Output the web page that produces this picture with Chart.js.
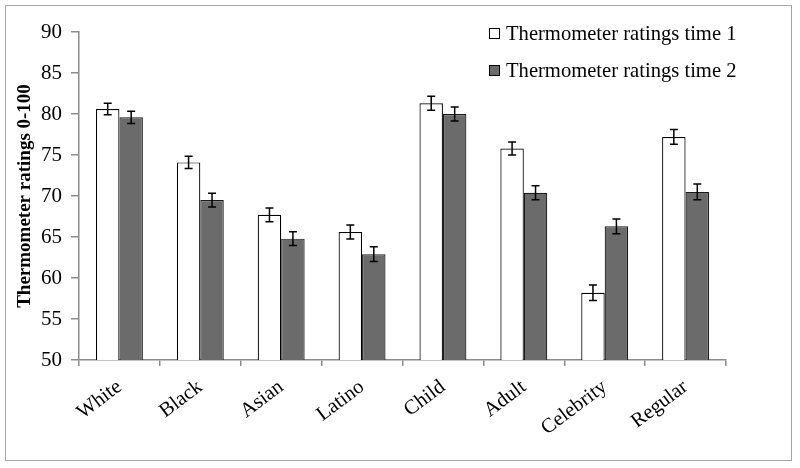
<!DOCTYPE html>
<html>
<head>
<meta charset="utf-8">
<script src="https://cdn.jsdelivr.net/npm/chart.js@4.4.1/dist/chart.umd.min.js"></script>
<style>
  body { margin: 0; background: #fff; }
  #wrap { position: relative; width: 800px; height: 468px; }
  #frame { position: absolute; left: 5px; top: 5px; width: 787px; height: 456px; border: 1px solid #a6a6a6; box-sizing: border-box; pointer-events: none; }
  canvas { position: absolute; left: 0; top: 0; }
  .legend { position: absolute; left: 489px; font-family: "Liberation Serif", "Times New Roman", serif; font-size: 20.6px; color: #000; white-space: nowrap; }
  .legend .box { display: inline-block; width: 9px; height: 9px; border: 1px solid #000; margin-right: 6px; vertical-align: 1px; }
</style>
</head>
<body>
<div id="wrap">
  <canvas id="myChart" width="800" height="468"></canvas>
  <div id="frame"></div>
  <div class="legend" style="top:22px"><span class="box" style="background:#fff"></span>Thermometer ratings time 1</div>
  <div class="legend" style="top:59px"><span class="box" style="background:#6b6b6b"></span>Thermometer ratings time 2</div>
</div>
<script>
const categories = ['White', 'Black', 'Asian', 'Latino', 'Child', 'Adult', 'Celebrity', 'Regular'];
const time1 = [80.6, 74.1, 67.7, 65.6, 81.3, 75.8, 58.2, 77.2];
const time2 = [79.6, 69.5, 64.8, 62.9, 80.0, 70.4, 66.3, 70.5];
const err1 = [0.7, 0.75, 0.85, 0.85, 0.85, 0.8, 0.95, 0.9];
const err2 = [0.75, 0.85, 0.85, 0.9, 0.85, 0.85, 0.9, 0.95];
const yTicks = [50, 55, 60, 65, 70, 75, 80, 85, 90];

const serif = '"Liberation Serif", "Times New Roman", serif';
const axisGray = '#8c8c8c';

// draws the +/- error whiskers on top of every bar
const errorBars = {
    id: 'errorBars',
    afterDatasetsDraw(chart) {
        const { ctx, scales: { y } } = chart;
        chart.data.datasets.forEach((ds, i) => {
            const meta = chart.getDatasetMeta(i);
            meta.data.forEach((bar, j) => {
                const v = ds.data[j];
                const e = ds.errors[j];
                const top = y.getPixelForValue(v + e);
                const bottom = y.getPixelForValue(v - e);
                ctx.save();
                ctx.strokeStyle = '#000';
                ctx.lineWidth = 1.5;
                ctx.beginPath();
                ctx.moveTo(bar.x, top);
                ctx.lineTo(bar.x, bottom);
                ctx.moveTo(bar.x - 4, top);
                ctx.lineTo(bar.x + 4, top);
                ctx.moveTo(bar.x - 4, bottom);
                ctx.lineTo(bar.x + 4, bottom);
                ctx.stroke();
                ctx.restore();
            });
        });
    }
};

new Chart(document.getElementById('myChart').getContext('2d'), {
    type: 'bar',
    data: {
        labels: categories,
        datasets: [
            {
                label: 'Thermometer ratings time 1',
                data: time1,
                errors: err1,
                backgroundColor: '#ffffff',
                borderColor: '#000000',
                borderWidth: 1.2
            },
            {
                label: 'Thermometer ratings time 2',
                data: time2,
                errors: err2,
                backgroundColor: '#6b6b6b',
                borderColor: '#1a1a1a',
                borderWidth: 1.2
            }
        ]
    },
    options: {
        responsive: false,
        animation: false,
        layout: { padding: { left: 0, top: 32, right: 74, bottom: 0 } },
        datasets: { bar: { categoryPercentage: 0.58, barPercentage: 1.0 } },
        plugins: {
            legend: { display: false },
            tooltip: { enabled: false }
        },
        scales: {
            x: {
                afterFit: scale => { scale.height = 108; },
                border: { color: axisGray, width: 1.5 },
                grid: { offset: true, drawOnChartArea: false, color: axisGray, tickLength: 6, lineWidth: 1.5 },
                ticks: {
                    font: { family: serif, size: 20.5 },
                    color: '#000',
                    minRotation: 37,
                    maxRotation: 37,
                    padding: 9
                }
            },
            y: {
                min: 50,
                max: 90,
                afterFit: scale => { scale.width = 79; },
                afterBuildTicks: scale => { scale.ticks = yTicks.map(v => ({ value: v })); },
                border: { color: axisGray, width: 1.5 },
                grid: { drawOnChartArea: false, color: axisGray, tickLength: 8, lineWidth: 1.5 },
                ticks: {
                    font: { family: serif, size: 21 },
                    color: '#000',
                    padding: 9
                },
                title: {
                    display: true,
                    text: 'Thermometer ratings 0-100',
                    font: { family: serif, size: 19, weight: 'bold' },
                    color: '#000',
                    padding: { top: 14, bottom: 0 }
                }
            }
        }
    },
    plugins: [errorBars]
});
</script>
</body>
</html>
